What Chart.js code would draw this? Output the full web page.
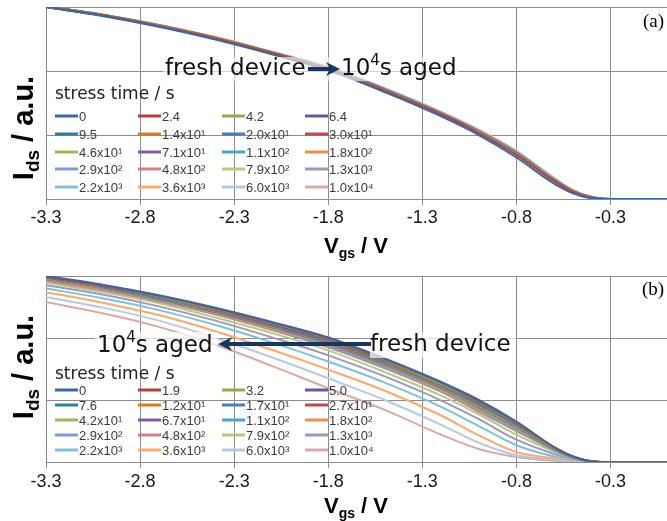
<!DOCTYPE html>
<html>
<head>
<meta charset="utf-8">
<script src="https://cdn.jsdelivr.net/npm/chart.js@4.4.1/dist/chart.umd.min.js"></script>
<style>
  body { margin: 0; background: #fff; }
  .panel { position: absolute; left: 0; width: 667px; }
  #wrapA { top: 0; height: 270px; }
  #wrapB { top: 260px; height: 261px; }
</style>
</head>
<body>
<div class="panel" id="wrapA"><canvas id="chartA"></canvas></div>
<div class="panel" id="wrapB"><canvas id="chartB"></canvas></div>
<script>
// =============================================
// DATA
// =============================================
const vgs = [-3.3, -3.0, -2.7, -2.4, -2.1, -1.8, -1.5, -1.2, -1.0, -0.8, -0.6, -0.5, -0.4, -0.3, 0.0];
const xTicks = [-3.3, -2.8, -2.3, -1.8, -1.3, -0.8, -0.3];
const xTickLabels = ['-3.3', '-2.8', '-2.3', '-1.8', '-1.3', '-0.8', '-0.3'];

const stressA = ['0', '2.4', '4.2', '6.4', '9.5', '1.4x10¹', '2.0x10¹', '3.0x10¹', '4.6x10¹', '7.1x10¹',
                 '1.1x10²', '1.8x10²', '2.9x10²', '4.8x10²', '7.9x10²', '1.3x10³', '2.2x10³', '3.6x10³', '6.0x10³', '1.0x10⁴'];
const stressB = ['0', '1.9', '3.2', '5.0', '7.6', '1.2x10¹', '1.7x10¹', '2.7x10¹', '4.2x10¹', '6.7x10¹',
                 '1.1x10²', '1.8x10²', '2.9x10²', '4.8x10²', '7.9x10²', '1.3x10³', '2.2x10³', '3.6x10³', '6.0x10³', '1.0x10⁴'];

// panel (a) - Ids per stress time
const a00 = [3.00, 2.86, 2.69, 2.49, 2.26, 2.01, 1.67, 1.29, 1.00, 0.65, 0.24, 0.09, 0.01, 0, 0];
const a01 = [3.00, 2.87, 2.70, 2.51, 2.28, 2.03, 1.69, 1.32, 1.03, 0.69, 0.28, 0.11, 0.02, 0, 0];
const a02 = [3.00, 2.87, 2.70, 2.51, 2.28, 2.03, 1.70, 1.32, 1.04, 0.70, 0.28, 0.11, 0.02, 0, 0];
const a03 = [3.00, 2.87, 2.70, 2.51, 2.28, 2.04, 1.70, 1.33, 1.04, 0.70, 0.29, 0.12, 0.02, 0, 0];
const a04 = [3.01, 2.87, 2.70, 2.51, 2.28, 2.03, 1.70, 1.33, 1.04, 0.70, 0.29, 0.11, 0.02, 0, 0];
const a05 = [3.01, 2.87, 2.71, 2.51, 2.28, 2.04, 1.70, 1.33, 1.04, 0.71, 0.29, 0.12, 0.02, 0, 0];
const a06 = [3.00, 2.87, 2.71, 2.51, 2.28, 2.04, 1.71, 1.33, 1.05, 0.71, 0.29, 0.12, 0.02, 0, 0];
const a07 = [3.01, 2.87, 2.71, 2.51, 2.28, 2.04, 1.71, 1.33, 1.05, 0.71, 0.29, 0.12, 0.02, 0, 0];
const a08 = [3.01, 2.87, 2.71, 2.52, 2.28, 2.04, 1.71, 1.34, 1.05, 0.71, 0.30, 0.12, 0.02, 0, 0];
const a09 = [3.01, 2.87, 2.71, 2.52, 2.29, 2.04, 1.71, 1.34, 1.05, 0.72, 0.30, 0.12, 0.02, 0, 0];
const a10 = [3.01, 2.88, 2.71, 2.52, 2.29, 2.05, 1.71, 1.34, 1.05, 0.72, 0.30, 0.12, 0.02, 0, 0];
const a11 = [3.01, 2.87, 2.71, 2.52, 2.29, 2.05, 1.71, 1.34, 1.06, 0.72, 0.30, 0.13, 0.02, 0, 0];
const a12 = [3.01, 2.88, 2.71, 2.52, 2.29, 2.05, 1.72, 1.34, 1.06, 0.72, 0.30, 0.13, 0.02, 0, 0];
const a13 = [3.01, 2.88, 2.71, 2.52, 2.29, 2.05, 1.72, 1.34, 1.06, 0.73, 0.31, 0.13, 0.03, 0, 0];
const a14 = [3.01, 2.88, 2.71, 2.52, 2.29, 2.05, 1.72, 1.35, 1.06, 0.73, 0.31, 0.13, 0.03, 0, 0];
const a15 = [3.01, 2.88, 2.72, 2.52, 2.29, 2.05, 1.72, 1.35, 1.07, 0.73, 0.31, 0.13, 0.03, 0, 0];
const a16 = [3.01, 2.88, 2.72, 2.52, 2.29, 2.05, 1.72, 1.35, 1.07, 0.74, 0.32, 0.13, 0.03, 0, 0];
const a17 = [3.01, 2.88, 2.72, 2.53, 2.30, 2.06, 1.72, 1.35, 1.07, 0.74, 0.32, 0.14, 0.03, 0, 0];
const a18 = [3.01, 2.88, 2.72, 2.53, 2.30, 2.06, 1.73, 1.36, 1.08, 0.75, 0.33, 0.14, 0.03, 0, 0];
const a19 = [3.01, 2.88, 2.72, 2.53, 2.30, 2.06, 1.73, 1.36, 1.08, 0.75, 0.33, 0.14, 0.03, 0, 0];

// panel (b) - Ids per stress time
const b00 = [3.00, 2.86, 2.69, 2.49, 2.26, 2.01, 1.67, 1.29, 1.00, 0.65, 0.24, 0.09, 0.01, 0, 0];
const b01 = [2.99, 2.85, 2.68, 2.48, 2.25, 2.00, 1.66, 1.28, 0.98, 0.64, 0.24, 0.09, 0.01, 0, 0];
const b02 = [2.99, 2.85, 2.67, 2.47, 2.24, 1.99, 1.65, 1.26, 0.97, 0.63, 0.23, 0.09, 0.01, 0, 0];
const b03 = [2.98, 2.84, 2.67, 2.47, 2.23, 1.98, 1.64, 1.26, 0.96, 0.62, 0.23, 0.09, 0.01, 0, 0];
const b04 = [2.98, 2.84, 2.66, 2.46, 2.22, 1.97, 1.63, 1.25, 0.95, 0.61, 0.23, 0.08, 0.01, 0, 0];
const b05 = [2.97, 2.83, 2.66, 2.45, 2.22, 1.96, 1.62, 1.24, 0.94, 0.60, 0.22, 0.08, 0.01, 0, 0];
const b06 = [2.97, 2.83, 2.65, 2.45, 2.21, 1.95, 1.61, 1.23, 0.93, 0.60, 0.22, 0.08, 0.01, 0, 0];
const b07 = [2.97, 2.82, 2.65, 2.44, 2.20, 1.94, 1.60, 1.22, 0.92, 0.59, 0.22, 0.08, 0.01, 0, 0];
const b08 = [2.96, 2.81, 2.64, 2.43, 2.19, 1.93, 1.59, 1.21, 0.90, 0.58, 0.21, 0.08, 0.01, 0, 0];
const b09 = [2.95, 2.81, 2.63, 2.42, 2.18, 1.92, 1.58, 1.20, 0.89, 0.57, 0.21, 0.08, 0.01, 0, 0];
const b10 = [2.95, 2.80, 2.62, 2.41, 2.17, 1.90, 1.56, 1.18, 0.87, 0.55, 0.20, 0.08, 0.01, 0, 0];
const b11 = [2.94, 2.79, 2.61, 2.40, 2.15, 1.89, 1.55, 1.16, 0.85, 0.54, 0.20, 0.07, 0.01, 0, 0];
const b12 = [2.93, 2.78, 2.60, 2.39, 2.14, 1.87, 1.53, 1.15, 0.83, 0.52, 0.19, 0.07, 0.01, 0, 0];
const b13 = [2.92, 2.77, 2.59, 2.38, 2.13, 1.85, 1.51, 1.13, 0.81, 0.50, 0.19, 0.07, 0.01, 0, 0];
const b14 = [2.89, 2.74, 2.56, 2.33, 2.08, 1.80, 1.45, 1.07, 0.77, 0.44, 0.17, 0.07, 0.02, 0, 0];
const b15 = [2.85, 2.70, 2.51, 2.28, 2.01, 1.72, 1.38, 0.99, 0.69, 0.36, 0.13, 0.06, 0.01, 0, 0];
const b16 = [2.80, 2.64, 2.45, 2.21, 1.93, 1.62, 1.28, 0.89, 0.58, 0.27, 0.09, 0.04, 0.01, 0, 0];
const b17 = [2.74, 2.57, 2.37, 2.11, 1.81, 1.49, 1.15, 0.75, 0.43, 0.16, 0.06, 0.03, 0.01, 0, 0];
const b18 = [2.66, 2.49, 2.28, 2.00, 1.69, 1.35, 1.00, 0.60, 0.31, 0.11, 0.04, 0.02, 0.01, 0, 0];
const b19 = [2.58, 2.40, 2.18, 1.89, 1.55, 1.19, 0.84, 0.44, 0.21, 0.08, 0.02, 0.01, 0.00, 0, 0];

const seriesA = [a00, a01, a02, a03, a04, a05, a06, a07, a08, a09, a10, a11, a12, a13, a14, a15, a16, a17, a18, a19];
const seriesB = [b00, b01, b02, b03, b04, b05, b06, b07, b08, b09, b10, b11, b12, b13, b14, b15, b16, b17, b18, b19];

const colors = ['#3A68A6', '#B5403C', '#8DAF4A', '#6F5595', '#2E8298', '#DA7B26', '#4A7DBD', '#BE4B48', '#98B954', '#7D5FA0',
                '#45A8C4', '#F39142', '#7B9DD0', '#D4807E', '#B0CC82', '#A593C2', '#7CC3D7', '#FAAA6C', '#B7C8E3', '#D8AAA8'];

const GRID = '#8c8c8c';
const NAVY = '#17375E';

// =============================================
// DRAW HELPERS
// =============================================
function drawAged(ctx, x, y) {
  ctx.fillStyle = '#111';
  ctx.textBaseline = 'middle';
  ctx.font = '23px "DejaVu Sans"';
  ctx.fillText('10', x, y);
  let w = ctx.measureText('10').width;
  ctx.font = '15px "DejaVu Sans"';
  ctx.fillText('4', x + w, y - 8);
  w += ctx.measureText('4').width;
  ctx.font = '23px "DejaVu Sans"';
  ctx.fillText('s aged', x + w, y);
}

function drawFresh(ctx, x, y) {
  ctx.fillStyle = '#111';
  ctx.textBaseline = 'middle';
  ctx.font = '23px "DejaVu Sans"';
  ctx.fillText('fresh device', x, y);
}

function drawArrow(ctx, x1, x2, y) {
  const dir = x2 > x1 ? 1 : -1;
  ctx.strokeStyle = NAVY;
  ctx.fillStyle = NAVY;
  ctx.lineWidth = 4;
  ctx.beginPath();
  ctx.moveTo(x1, y);
  ctx.lineTo(x2 - dir * 10, y);
  ctx.stroke();
  ctx.beginPath();
  ctx.moveTo(x2, y);
  ctx.lineTo(x2 - dir * 14, y - 7);
  ctx.lineTo(x2 - dir * 10, y);
  ctx.lineTo(x2 - dir * 14, y + 7);
  ctx.closePath();
  ctx.fill();
}

function drawLegend(ctx, chart, labels, titleY, rows) {
  const cols = [55, 138, 222, 305];
  ctx.fillStyle = '#222';
  ctx.textBaseline = 'middle';
  ctx.font = '17px "DejaVu Sans"';
  ctx.fillText('stress time / s', 55, titleY);
  ctx.font = '13px "Liberation Sans"';
  labels.forEach((lab, i) => {
    const x = cols[i % 4], y = rows[Math.floor(i / 4)];
    ctx.strokeStyle = chart.data.datasets[i].borderColor;
    ctx.lineWidth = 3;
    ctx.beginPath();
    ctx.moveTo(x, y);
    ctx.lineTo(x + 23, y);
    ctx.stroke();
    ctx.fillStyle = '#3b3b3b';
    ctx.fillText(lab, x + 24, y + 1);
  });
}

function drawYTitle(ctx, baseX, cy) {
  ctx.save();
  ctx.translate(baseX, cy);
  ctx.rotate(-Math.PI / 2);
  ctx.fillStyle = '#000';
  ctx.textBaseline = 'alphabetic';
  const big = 'bold 29px "Liberation Sans"', small = 'bold 19px "Liberation Sans"';
  ctx.font = big;
  const wI = ctx.measureText('I').width, wR = ctx.measureText(' / a.u.').width;
  ctx.font = small;
  const wS = ctx.measureText('ds').width;
  let x = -(wI + wS + wR) / 2;
  ctx.font = big;   ctx.fillText('I', x, 0); x += wI;
  ctx.font = small; ctx.fillText('ds', x, 6); x += wS;
  ctx.font = big;   ctx.fillText(' / a.u.', x, 0);
  ctx.restore();
}

function drawXTitle(ctx, cx, baseY) {
  ctx.fillStyle = '#000';
  ctx.textBaseline = 'alphabetic';
  const big = 'bold 22px "Liberation Sans"', small = 'bold 14px "Liberation Sans"';
  ctx.font = big;
  const wV = ctx.measureText('V').width, wR = ctx.measureText(' / V').width;
  ctx.font = small;
  const wS = ctx.measureText('gs').width;
  let x = cx - (wV + wS + wR) / 2;
  ctx.font = big;   ctx.fillText('V', x, baseY); x += wV;
  ctx.font = small; ctx.fillText('gs', x, baseY + 5); x += wS;
  ctx.font = big;   ctx.fillText(' / V', x, baseY);
}

function drawTag(ctx, txt, x, y) {
  ctx.fillStyle = '#000';
  ctx.textBaseline = 'middle';
  ctx.font = '19px "Liberation Serif"';
  ctx.fillText(txt, x, y);
}

// =============================================
// OVERLAYS
// =============================================
const overlayA = {
  id: 'overlayA',
  afterDatasetsDraw(chart) {
    const ctx = chart.ctx;
    ctx.save();
    ctx.fillStyle = 'rgba(255,255,255,0.6)';
    ctx.fillRect(163, 57, 296, 24);
    drawFresh(ctx, 165, 69);
    drawArrow(ctx, 308, 340, 69);
    drawAged(ctx, 341, 69);
    drawLegend(ctx, chart, stressA, 95, [116, 134, 152, 169, 187]);
    drawTag(ctx, '(a)', 643, 22);
    drawYTitle(ctx, 33, 128);
    drawXTitle(ctx, 356, 253);
    ctx.restore();
  }
};

const overlayB = {
  id: 'overlayB',
  afterDatasetsDraw(chart) {
    const ctx = chart.ctx;
    ctx.save();
    ctx.fillStyle = 'rgba(255,255,255,0.7)';
    ctx.fillRect(95, 72, 122, 26);
    ctx.fillRect(370, 72, 146, 26);
    drawAged(ctx, 97, 86);
    drawArrow(ctx, 371, 218, 84);
    drawFresh(ctx, 370, 85);
    drawLegend(ctx, chart, stressB, 115, [130, 145, 160, 175, 190]);
    drawTag(ctx, '(b)', 642, 30);
    drawYTitle(ctx, 33, 107);
    drawXTitle(ctx, 356, 253);
    ctx.restore();
  }
};

// =============================================
// CHARTS
// =============================================
function makeChart(id, series, labels, padTop, axisH, tickPad, overlay) {
  return new Chart(document.getElementById(id), {
    type: 'line',
    data: {
      datasets: series.map((s, i) => ({
        label: labels[i],
        data: vgs.map((v, j) => ({ x: v, y: s[j] })),
        borderColor: colors[i],
        backgroundColor: colors[i],
        borderWidth: 2,
        pointRadius: 0,
        cubicInterpolationMode: 'monotone',
        fill: false
      }))
    },
    options: {
      responsive: true,
      maintainAspectRatio: false,
      animation: false,
      layout: { padding: { left: 46, right: 0, top: padTop, bottom: 0 } },
      plugins: { legend: { display: false }, tooltip: { enabled: false } },
      scales: {
        x: {
          type: 'linear',
          min: -3.3,
          max: 0,
          afterBuildTicks: s => { s.ticks = xTicks.map(v => ({ value: v })); },
          afterFit: s => { s.height = axisH; },
          ticks: {
            callback: (v, i) => xTickLabels[i],
            font: { family: 'Liberation Sans', size: 18 },
            color: '#1a1a1a',
            padding: tickPad,
            maxRotation: 0,
            autoSkip: false
          },
          grid: { color: GRID, tickLength: 6 },
          border: { color: GRID }
        },
        y: {
          min: 0,
          max: 3,
          ticks: { display: false, stepSize: 1 },
          grid: { color: GRID, drawTicks: false },
          border: { color: GRID }
        }
      }
    },
    plugins: [overlay]
  });
}

makeChart('chartA', seriesA, stressA, 7, 71, 2, overlayA);
makeChart('chartB', seriesB, stressB, 16, 59, 3, overlayB);
</script>
</body>
</html>
